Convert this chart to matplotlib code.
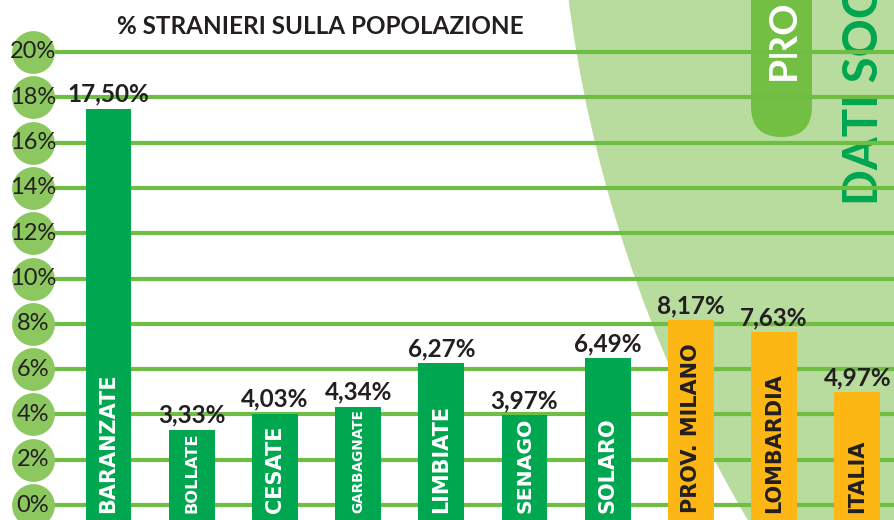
import numpy as np
import matplotlib.pyplot as plt
from matplotlib.patches import Ellipse, FancyBboxPatch
from matplotlib.transforms import IdentityTransform

# dati: % stranieri sulla popolazione
categories = ["BARANZATE", "BOLLATE", "CESATE", "GARBAGNATE", "LIMBIATE",
              "SENAGO", "SOLARO", "PROV. MILANO", "LOMBARDIA", "ITALIA"]
values = [17.50, 3.33, 4.03, 4.34, 6.27, 3.97, 6.49, 8.17, 7.63, 4.97]
value_labels = ["17,50%", "3,33%", "4,03%", "4,34%", "6,27%",
                "3,97%", "6,49%", "8,17%", "7,63%", "4,97%"]
is_reference = [False] * 7 + [True] * 3   # provincia / regione / italia
yticks = [0, 2, 4, 6, 8, 10, 12, 14, 16, 18, 20]
ytick_labels = ["0%", "2%", "4%", "6%", "8%", "10%", "12%", "14%", "16%", "18%", "20%"]

GREEN = "#00a650"
ORANGE = "#fdb714"
GRID = "#6fbe44"
CIRCLE = "#8cc85f"
LIGHT = "#b8dc9d"
DARK = "#231f20"

W, H = 894, 520
fig = plt.figure(figsize=(W / 100, H / 100), dpi=100)
ax = fig.add_axes([0, 0, 1, 1])
ax.patch.set_visible(False)
ax.axis("off")

# pixel geometry of the original layout
x0_px, dx_px = 108.5, 83.2      # centre of first bar, bar spacing
y0_px, dy_px = 15.0, 22.65      # 0% line from bottom, px per 1%
ax.set_xlim(-x0_px / dx_px, (W - x0_px) / dx_px)
ybot = -y0_px / dy_px
ax.set_ylim(ybot, (H - y0_px) / dy_px)

# decorative background on the right
bg = Ellipse((1929, 698), 2 * 1372, 2 * 1372, transform=IdentityTransform(),
             color=LIGHT, zorder=0, lw=0)
ax.add_artist(bg)
pill = FancyBboxPatch((751, 383), 61, 200, boxstyle="round,pad=0,rounding_size=30.5",
                      transform=IdentityTransform(), color="#72bf44", lw=0, zorder=0.5)
ax.add_artist(pill)
ax.text(783, 440, "PRO", transform=IdentityTransform(), rotation=90,
        ha="center", va="bottom", color="white", fontsize=28,
        fontweight="bold", family="Lato", zorder=0.6)
ax.text(864, 315, "DATI SOC", transform=IdentityTransform(), rotation=90,
        ha="center", va="bottom", color=GREEN, fontsize=34,
        fontweight="bold", family="Lato", zorder=0.6)

# gridlines + circle ticks
xc = (33 - x0_px) / dx_px
ax.hlines(yticks, xc, 10, color=GRID, lw=3, zorder=1)
ax.scatter([xc] * len(yticks), yticks, s=950, color=CIRCLE, lw=0, zorder=3)
for t, lab in zip(yticks, ytick_labels):
    ax.text(xc, t, lab, ha="center", va="center", fontsize=17,
            color=DARK, family="Lato", zorder=4)

# bars
x = np.arange(len(categories))
colors = [ORANGE if r else GREEN for r in is_reference]
ax.bar(x, np.array(values) - ybot, bottom=ybot, width=0.55, color=colors, zorder=2)

name_start = ybot + 0.3
name_texts = []
for xi, v, lab, name, r in zip(x, values, value_labels, categories, is_reference):
    ax.annotate(lab, (xi, v), xytext=(0, 5), textcoords="offset points",
                ha="center", va="baseline", fontsize=17.5, fontweight="bold",
                color=DARK, family="Lato", zorder=5)
    t = ax.text(xi, name_start, name, rotation=90, ha="center", va="bottom",
                fontsize=15, fontweight="bold", color=DARK if r else "white",
                family=["Liberation Sans Narrow", "DejaVu Sans"], zorder=5)
    name_texts.append((t, v))

# shrink names that would not fit inside their bar
fig.canvas.draw()
renderer = fig.canvas.get_renderer()
for t, v in name_texts:
    avail = (v - name_start) * dy_px - 3
    h = t.get_window_extent(renderer).height
    if h > avail:
        t.set_fontsize(t.get_fontsize() * avail / h)

ax.text(320 / W, 1 - 26 / H, "% STRANIERI SULLA POPOLAZIONE", transform=ax.transAxes,
        ha="center", va="center", fontsize=17.5, fontweight="bold",
        color=DARK, family="Lato")

fig.savefig("out.png", dpi=100)
